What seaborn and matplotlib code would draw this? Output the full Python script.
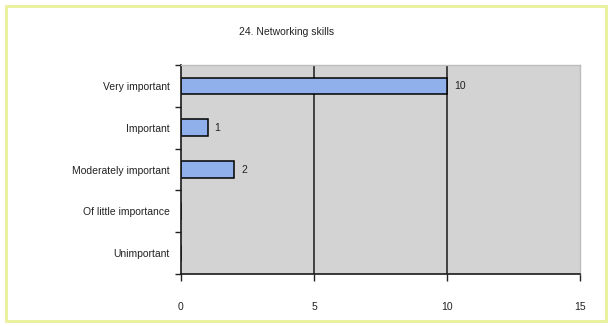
import matplotlib
matplotlib.use("Agg")
import matplotlib.pyplot as plt
import matplotlib.patches as mpatches
import numpy as np
import pandas as pd
import seaborn as sns

categories = ["Very important", "Important", "Moderately important",
              "Of little importance", "Unimportant"]
counts = [10, 1, 2, 0, 0]
x_ticks = [0, 5, 10, 15]
title = "24. Networking skills"

df = pd.DataFrame({"category": categories, "count": counts})

sns.set_theme(style="white")
plt.rcParams["font.family"] = ["Liberation Sans", "DejaVu Sans"]

fig = plt.figure(figsize=(6.14, 3.26), dpi=100)
fig.patch.set_facecolor("white")
ax = fig.add_axes([181 / 614, 1 - 274 / 326, 399 / 614, 209 / 326])

sns.barplot(data=df, y="category", x="count", order=categories, orient="h",
            color="#8fb0ea", saturation=1, width=0.4, edgecolor="black",
            linewidth=1.1, ax=ax)

ax.set_facecolor("#d3d3d3")
ax.set_xlim(0, 15)
ax.set_ylim(len(categories) - 0.5, -0.5)
ax.set_xlabel("")
ax.set_ylabel("")

# vertical gridlines behind the bars
for xv in x_ticks[1:-1]:
    ax.axvline(xv, color="#1a1a1a", lw=1.1, zorder=0.5)

ax.set_xticks(x_ticks)
ax.set_xticklabels([str(v) for v in x_ticks], fontsize=7.5, color="#222222")
ax.tick_params(axis="x", direction="out", length=5, width=1, color="#222222",
               pad=15, bottom=True)

# category boundaries get tick marks, centres carry the labels
ax.set_yticks(np.arange(-0.5, len(categories), 1.0))
ax.set_yticklabels([])
ax.set_yticks(np.arange(len(categories)), minor=True)
ax.set_yticklabels(categories, minor=True, fontsize=7.5, color="#222222")
ax.tick_params(axis="y", which="major", direction="out", length=4, width=1,
               color="#222222", left=True)
ax.tick_params(axis="y", which="minor", length=0, pad=8)

for side in ["left", "bottom"]:
    ax.spines[side].set_color("#1a1a1a")
    ax.spines[side].set_linewidth(1.2)
for side in ["top", "right"]:
    ax.spines[side].set_color("#bdbdbd")
    ax.spines[side].set_linewidth(1.0)

labels = [str(v) if v else "" for v in counts]
ax.bar_label(ax.containers[0], labels=labels, padding=5, fontsize=7.5,
             color="#222222")

fig.text(287 / 614, 1 - 32 / 326, title, ha="center", va="center",
         fontsize=7.5, color="#222222")

fig.patches.append(mpatches.Rectangle((6 / 614, 5 / 326), 600 / 614, 315 / 326,
                                      transform=fig.transFigure, fill=False,
                                      edgecolor="#e8f09a", lw=2))

fig.savefig("out.png", dpi=100)
